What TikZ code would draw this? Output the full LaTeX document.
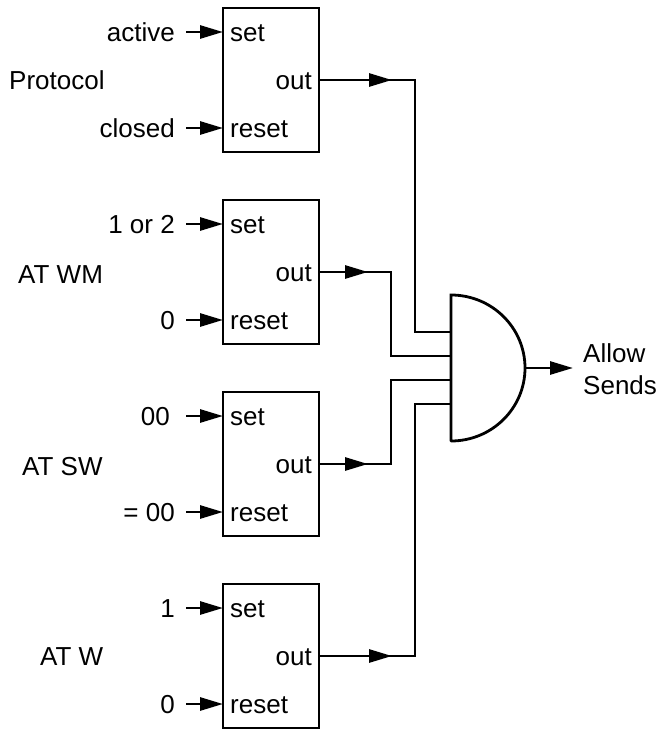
\documentclass[tikz,border=0pt]{standalone}
\usepackage{fontspec}
\setmainfont{Liberation Sans}
\usetikzlibrary{arrows.meta}
\tikzset{
  x=1pt,y=-1pt,
  every node/.style={font=\fontsize{26}{32}\selectfont,text height=18.6pt,text depth=0pt,inner ysep=0pt},
  wire/.style={line width=2.8pt,line join=miter},
  arr/.style={wire,-{Triangle[length=23pt,width=13pt]}},
  latch/.style={draw,line width=2.8pt,minimum width=96pt,minimum height=144pt,inner sep=0pt},
  inlabel/.style={anchor=east,inner xsep=11pt},
  pinin/.style={anchor=west,inner xsep=7pt},
  pinout/.style={anchor=east,inner xsep=7pt},
  grouplabel/.style={anchor=west,inner xsep=0pt},
}
\begin{document}
\begin{tikzpicture}
\useasboundingbox (0,0) rectangle (658,730);
% latches
\node[latch] (b1) at (271,80) {};
\node[latch] (b2) at (271,272) {};
\node[latch] (b3) at (271,464) {};
\node[latch] (b4) at (271,656) {};
% pins
\node[pinin] (s1) at (223,32) {set};
\node[pinin] (r1) at (223,128) {reset};
\node[pinout] (o1) at (319,80) {out};
\node[pinin] (s2) at (223,224) {set};
\node[pinin] (r2) at (223,320) {reset};
\node[pinout] (o2) at (319,272) {out};
\node[pinin] (s3) at (223,416) {set};
\node[pinin] (r3) at (223,512) {reset};
\node[pinout] (o3) at (319,464) {out};
\node[pinin] (s4) at (223,608) {set};
\node[pinin] (r4) at (223,704) {reset};
\node[pinout] (o4) at (319,656) {out};
% input labels
\node[inlabel] (a1) at (186,32) {active};
\node[inlabel] (c1) at (186,128) {closed};
\node[inlabel] (a2) at (186,224) {1 or 2};
\node[inlabel] (c2) at (186,320) {0};
\node[inlabel] (a3) at (186,416) {00\hspace{5pt}\null};
\node[inlabel] (c3) at (186,512) {= 00};
\node[inlabel] (a4) at (186,608) {1};
\node[inlabel] (c4) at (186,704) {0};
% group labels
\node[grouplabel] (g1) at (9,80) {Protocol};
\node[grouplabel] (g2) at (18,274) {AT WM};
\node[grouplabel] (g3) at (22,466) {AT SW};
\node[grouplabel] (g4) at (40,656) {AT W};
% input arrows
\foreach \n in {1,2,3,4}{
  \draw[arr] (a\n.east) -- (s\n.west);
  \draw[arr] (c\n.east) -- (r\n.west);
}
% gate
\coordinate (gt) at (451,295);
\coordinate (gb) at (451,441);
\coordinate (gr) at (525,368);
\coordinate (p1) at (451,332);
\coordinate (p2) at (451,356);
\coordinate (p3) at (451,380);
\coordinate (p4) at (451,404);
\draw[wire,line cap=round] (gb) -- (gt) arc[start angle=90,end angle=-90,x radius=74pt,y radius=73pt];
% output wires
\coordinate (m1) at (392,80);
\coordinate (m2) at (368,272);
\coordinate (m3) at (368,464);
\coordinate (m4) at (392,656);
\coordinate (v1) at (415,80);
\coordinate (v2) at (391,272);
\coordinate (v3) at (391,464);
\coordinate (v4) at (415,656);
\draw[wire] (o1.east) -- (v1) |- (p1);
\draw[wire] (o2.east) -- (v2) |- (p2);
\draw[wire] (o3.east) -- (v3) |- (p3);
\draw[wire] (o4.east) -- (v4) |- (p4);
\draw[arr] (o1.east) -- (m1);
\draw[arr] (o2.east) -- (m2);
\draw[arr] (o3.east) -- (m3);
\draw[arr] (o4.east) -- (m4);
% output
\node[anchor=west,inner xsep=0pt,align=left,text height=,text depth=] (res) at (583,369) {Allow\\Sends};
\coordinate (tipout) at (573,368);
\draw[arr] (gr) -- (tipout);
\end{tikzpicture}
\end{document}
